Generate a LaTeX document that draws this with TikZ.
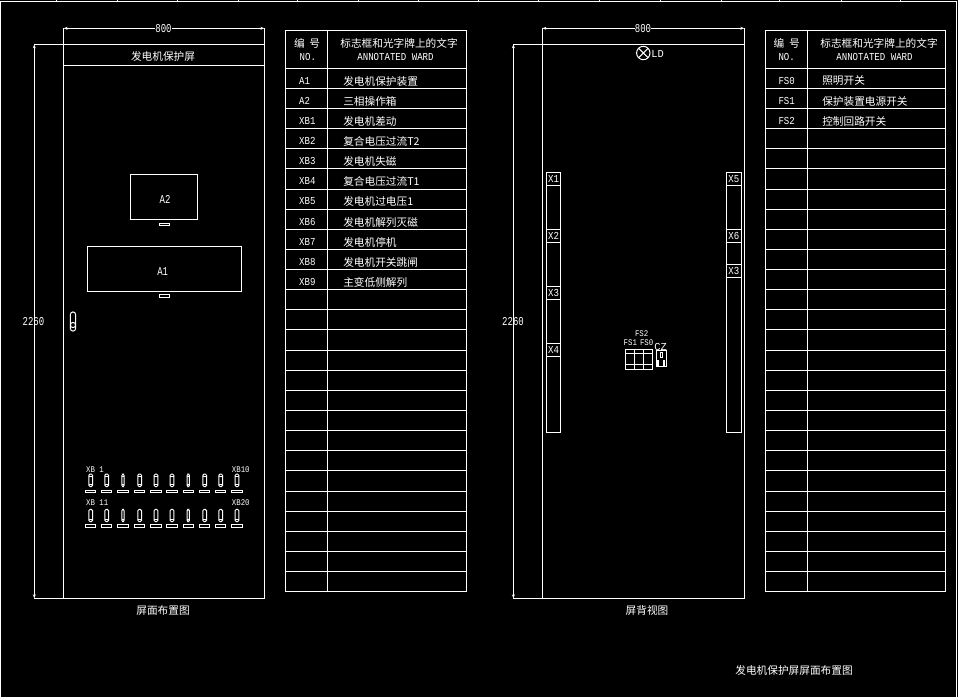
\documentclass[tikz,border=0pt]{standalone}
\usetikzlibrary{arrows.meta}
\usepackage{fontspec}
\setmainfont{Liberation Mono}
\newfontfamily\cjk{Noto Sans CJK SC}
\tikzset{
  wire/.style={draw=white,line width=0.75pt},
  dimline/.style={wire,line width=0.6pt,{Stealth[length=3pt,width=2.2pt]}-{Stealth[length=3pt,width=2.2pt]}},
  label/.style={text=white,inner sep=0pt,xscale=0.85,font=\fontsize{8}{9}\selectfont},
  smalllabel/.style={text=white,inner sep=0pt,xscale=0.85,font=\fontsize{6.5}{7}\selectfont},
  biglabel/.style={text=white,inner sep=0pt,xscale=0.75,font=\fontsize{9}{10}\selectfont},
  zh/.style={text=white,inner sep=0pt,font=\cjk\fontsize{8}{9}\selectfont},
  zhrow/.style={zh,anchor=west},
}
\begin{document}
\begin{tikzpicture}[x=0.75pt,y=-0.75pt]
\fill[black] (0,0) rectangle (958,697);
\useasboundingbox (0,0) rectangle (958,697);
% Outer frame at the top edge
\draw[wire] (0.5,697) -- (0.5,1.5) -- (956.7,1.5) -- (956.7,697);
\foreach \x in {56,117,177,238,297,358,418,478,538,599,660,721,779,841,900}
  \draw[wire] (\x,0) -- (\x,1.5);

% Left panel - front view
\draw[wire] (63.6,44.3) rectangle (264.4,598.3);
\draw[wire] (63.6,65.3) -- (264.4,65.3);
\node[zh] (title) at (163,56) {发电机保护屏};
\draw[wire] (63.6,44.3) -- (63.6,28.3) (264.4,28.3) -- (264.4,44.3);
\draw[dimline] (63.6,28.3) -- (264.4,28.3);
\node[biglabel,fill=black] (width) at (163.5,29) {800};
\draw[wire] (63.6,44.3) -- (34.3,44.3) (34.3,598.3) -- (63.6,598.3);
\node[biglabel] (height) at (33.5,322) {2260};
\draw[dimline] (34.3,44.3) -- (34.3,598.3);
\node[zh] (front) at (163,610) {屏面布置图};

% Devices A1, A2
\draw[wire] (130.3,174) rectangle (197.7,219.3);
\node[biglabel] (atwo) at (165,199) {A2};
\draw[wire] (159.3,223.3) rectangle (169.7,225.9);
\draw[wire] (87.3,246.3) rectangle (241.7,291.7);
\node[biglabel] (aone) at (162.7,271.5) {A1};
\draw[wire] (159.3,294.3) rectangle (169.7,297.3);
% Door handle
\draw[wire] (70.4,314.5) arc (180:360:2.6) -- (75.6,328.5) arc (0:180:2.6) -- cycle;
\draw[wire] (73,325) circle (2.6);

% Pressure plates XB1..XB20
\node[smalllabel,anchor=west] (xba) at (86,469.3) {XB 1};
\node[smalllabel,anchor=west] (xbb) at (231.7,469.3) {XB10};
\node[smalllabel,anchor=west] (xbc) at (86,503) {XB 11};
\node[smalllabel,anchor=west] (xbd) at (231.7,503) {XB20};
\foreach \x/\w in {90.7/3.7,106.7/3.7,123/2.2,139.7/3.7,156/3.7,172/3.7,188.3/2.2,204.7/3.7,220.7/3.7,237/3.7}{
  \draw[wire,rounded corners=1pt] (\x-\w/2,474) rectangle (\x+\w/2,486.7);
  \draw[wire] (\x-\w/2,476.5) -- (\x+\w/2,476.5) (\x-\w/2,484) -- (\x+\w/2,484);
  \draw[wire] (\x-5.2,490) rectangle (\x+5.2,492.7);
  \draw[wire,rounded corners=1pt] (\x-\w/2,509.3) rectangle (\x+\w/2,521.7);
  \draw[wire] (\x-\w/2,519) -- (\x+\w/2,519);
  \draw[wire] (\x-5.2,524.3) rectangle (\x+5.2,527.7);
}

% Left table
\draw[wire] (285.3,30.3) rectangle (466.3,591.7);
\draw[wire] (327.7,30.3) -- (327.7,591.7);
\foreach \i in {0,...,25}
  \draw[wire] (285.3,68.3+20.13*\i) -- (466.3,68.3+20.13*\i);
\node[zh] (lnum) at (307,43.3) {编\hspace{3.5pt}号};
\node[label] (lno) at (307.8,56.7) {NO.};
\node[zh] (lhead) at (399,43.3) {标志框和光字牌上的文字};
\node[label] (lword) at (395.5,56.7) {ANNOTATED WARD};
\foreach \i/\a/\b in {0/A1/发电机保护装置,1/A2/三相操作箱,2/XB1/发电机差动,3/XB2/复合电压过流T2,
  4/XB3/发电机失磁,5/XB4/复合电压过流T1,6/XB5/发电机过电压1,7/XB6/发电机解列灭磁,
  8/XB7/发电机停机,9/XB8/发电机开关跳闸,10/XB9/主变低侧解列}{
  \node[label,anchor=west] (lcode\i) at (299,80.5+20.15*\i) {\a};
  \node[zhrow] (lname\i) at (343,81+20.15*\i) {\b};
}

% Right panel - rear view
\draw[wire] (542.4,44.3) rectangle (744.3,598.3);
\draw[wire] (542.4,44.3) -- (542.4,28.3) (744.3,28.3) -- (744.3,44.3);
\draw[dimline] (542.4,28.3) -- (744.3,28.3);
\node[biglabel,fill=black] (rwidth) at (643,29) {800};
\draw[wire] (542.4,44.3) -- (513.4,44.3) (513.4,598.3) -- (542.4,598.3);
\node[biglabel] (rheight) at (513,322) {2260};
\draw[dimline] (513.4,44.3) -- (513.4,598.3);
\node[zh] (rear) at (647,610) {屏背视图};
% Lamp
\draw[wire] (643.3,53) circle (6.7);
\draw[wire] (638.6,48.3) -- (648,57.7) (638.6,57.7) -- (648,48.3);
\node[label,anchor=west,xscale=1.15] (lamp) at (651,53.7) {LD};

% Terminal strips
\draw[wire] (546.3,172.3) rectangle (560.7,432);
\draw[wire] (726.4,172.3) rectangle (741.3,432);
\foreach \y/\t in {172.3/X1,229.7/X2,286.5/X3,343.5/X4}{
  \draw[wire] (546.3,\y) rectangle (560.7,\y+13);
  \node[label] (term\t) at (553.5,\y+6.5) {\t};
}
\foreach \y/\t in {172.3/X5,229.7/X6,264.3/X3}{
  \draw[wire] (726.4,\y) rectangle (741.3,\y+13);
  \node[label] (rterm\y) at (733.8,\y+6.5) {\t};
}

% Switches
\draw[wire] (625.3,349) rectangle (652.7,369);
\draw[wire] (634.3,349) -- (634.3,369) (643.5,349) -- (643.5,369);
\draw[wire] (625.3,353.5) -- (652.7,353.5) (625.3,364.3) -- (652.7,364.3);
\node[smalllabel] (fstwo) at (641.7,334) {FS2};
\node[smalllabel] (fsone) at (630.3,343) {FS1};
\node[smalllabel] (fszero) at (646.7,343) {FS0};
\node[label,xscale=1.15] (cz) at (660.7,346.7) {CZ};
\draw[wire] (656,350.7) rectangle (666.3,366.7);
\draw[wire] (660,352.9) rectangle (662.7,357.3);
\draw[wire] (657.3,360.7) rectangle (658.7,365);
\draw[wire] (663.3,360.7) rectangle (664.7,365);

% Right table
\draw[wire] (765.3,30.3) rectangle (945.3,591.7);
\draw[wire] (807.7,30.3) -- (807.7,591.7);
\foreach \i in {0,...,25}
  \draw[wire] (765.3,68.3+20.13*\i) -- (945.3,68.3+20.13*\i);
\node[zh] (rnum) at (786.7,43.3) {编\hspace{3.5pt}号};
\node[label] (rno) at (786.7,56.7) {NO.};
\node[zh] (rhead) at (879,43.3) {标志框和光字牌上的文字};
\node[label] (rword) at (874.5,56.7) {ANNOTATED WARD};
\foreach \i/\a/\b in {0/FS0/照明开关,1/FS1/保护装置电源开关,2/FS2/控制回路开关}{
  \node[label,anchor=west] (rcode\i) at (778.3,80.5+20.15*\i) {\a};
  \node[zhrow] (rname\i) at (822,81+20.15*\i) {\b};
}

\node[zh] (sheet) at (794,670) {发电机保护屏屏面布置图};
\end{tikzpicture}
\end{document}
